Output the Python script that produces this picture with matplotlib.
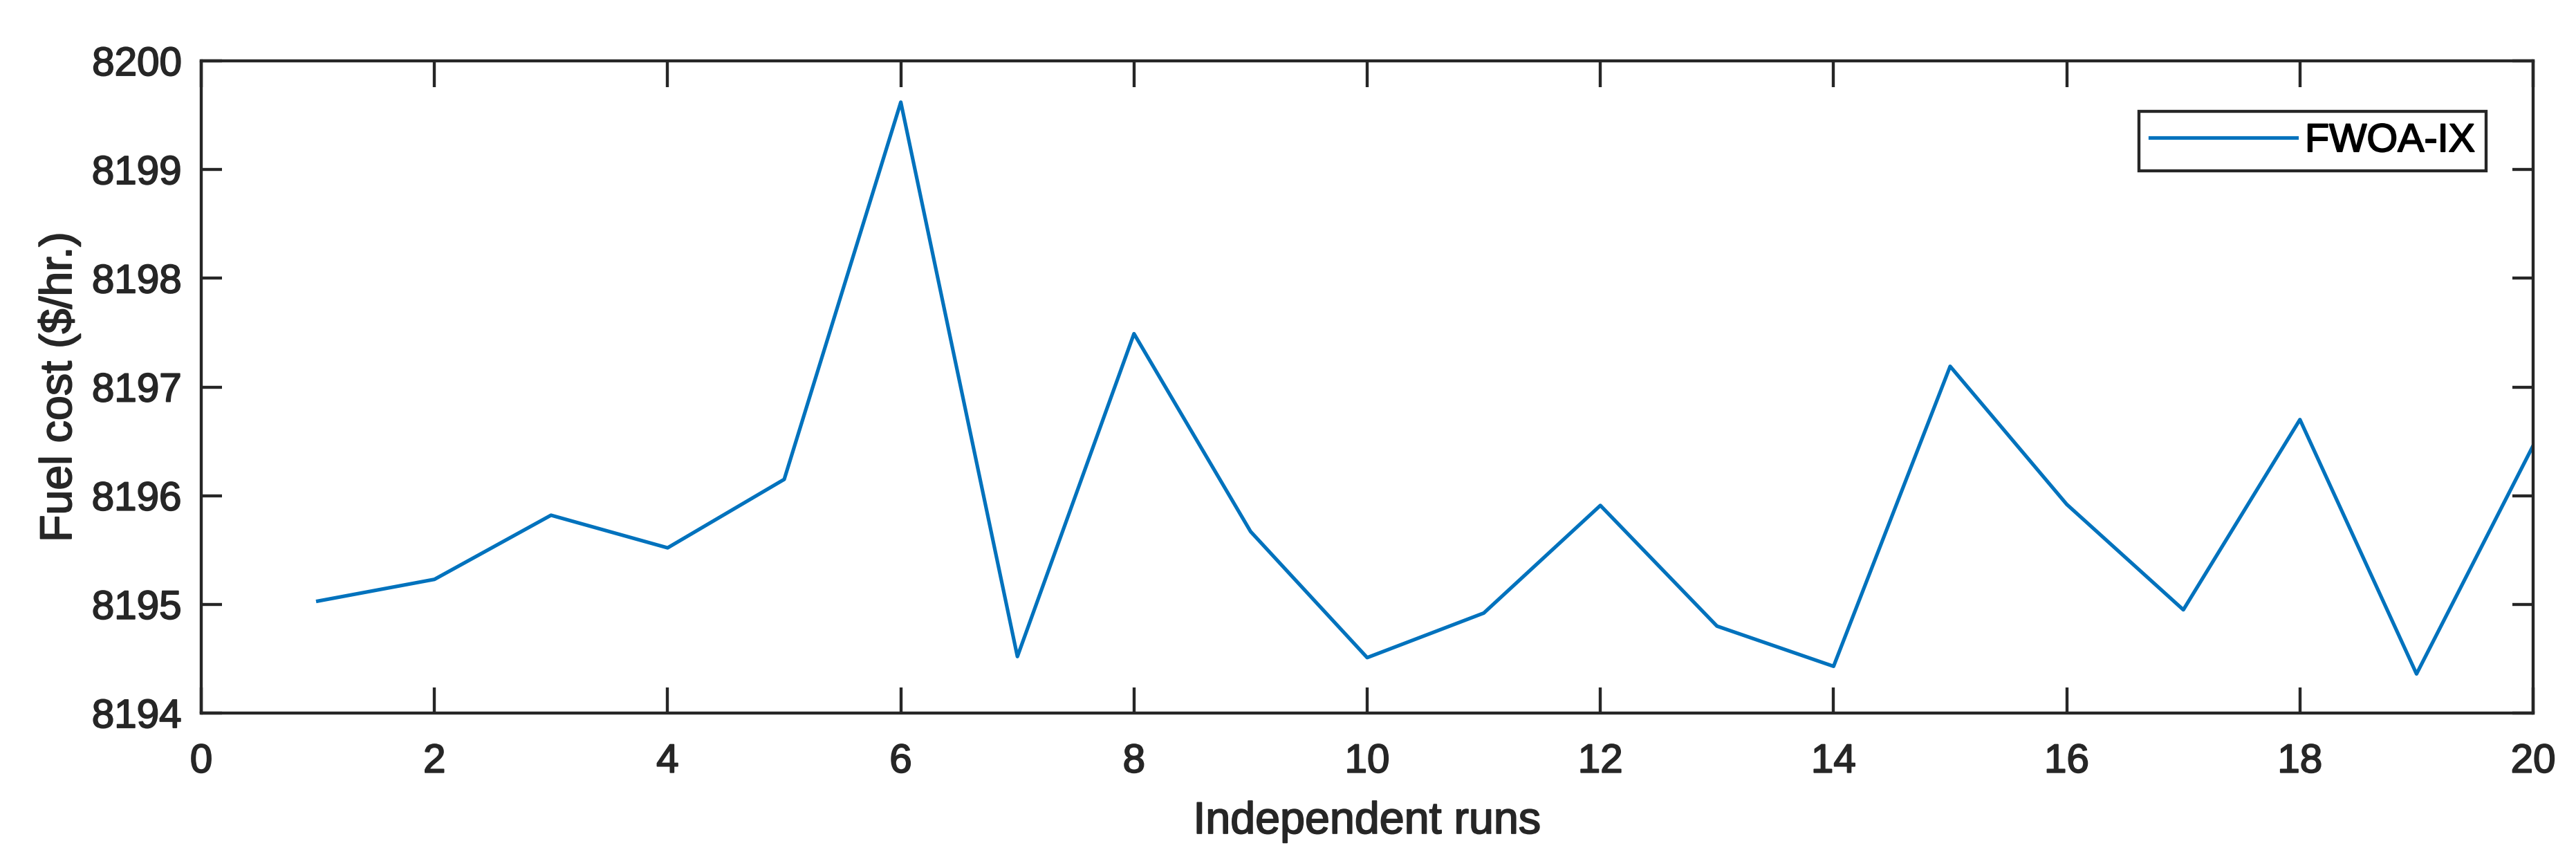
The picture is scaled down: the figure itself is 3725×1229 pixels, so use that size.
import numpy as np
import matplotlib
matplotlib.use("Agg")
import matplotlib.pyplot as plt
import matplotlib.patheffects as pe

# fuel cost per independent run
runs = list(range(1, 21))
fuel_cost = [8195.03, 8195.23, 8195.82, 8195.52, 8196.15, 8199.62, 8194.52, 8197.49,
             8195.67, 8194.51, 8194.92, 8195.91, 8194.80, 8194.43, 8197.19, 8195.92,
             8194.95, 8196.70, 8194.36, 8196.46]
x_ticks = [0, 2, 4, 6, 8, 10, 12, 14, 16, 18, 20]
y_ticks = [8194, 8195, 8196, 8197, 8198, 8199, 8200]
series_name = "FWOA-IX"

dark = "#262626"
plt.rcParams['font.family'] = ['Liberation Sans', 'DejaVu Sans']
# the reference text is a bit heavier than plain regular weight
heavy = [pe.withStroke(linewidth=0.45, foreground=dark)]

fig = plt.figure(figsize=(3725 / 300, 1229 / 300), dpi=300)
ax = fig.add_axes([291 / 3725, 1 - 1031 / 1229, (3663 - 291) / 3725, (1031 - 88) / 1229])

ax.plot(runs, fuel_cost, color="#0072BD", linewidth=1.25, label=series_name)

ax.set_xlim(0, 20)
ax.set_ylim(8194, 8200)
ax.set_xticks(x_ticks)
ax.set_yticks(y_ticks)
ax.set_xticklabels([str(v) for v in x_ticks])
ax.set_yticklabels([str(v) for v in y_ticks])

for s in ax.spines.values():
    s.set_linewidth(1.05)
    s.set_color(dark)

ax.tick_params(axis="both", direction="in", top=True, right=True, width=1.05,
               color=dark, labelcolor=dark, labelsize=14)
ax.tick_params(axis="x", length=9, pad=10.5)
ax.tick_params(axis="y", length=7.2, pad=6.8)

ax.set_xlabel("Independent runs", fontsize=15.5, color=dark, labelpad=7)
ax.set_ylabel("Fuel cost ($/hr.)", fontsize=15.5, color=dark, labelpad=4)

leg = ax.legend(loc="upper right", bbox_to_anchor=(0.9798, 0.9226), borderaxespad=0,
                fancybox=False, edgecolor=dark, framealpha=1, fontsize=13.8,
                handlelength=3.69, handletextpad=0.21, borderpad=0.28)
leg.get_frame().set_linewidth(1.05)

texts = ax.get_xticklabels() + ax.get_yticklabels()
texts += [ax.xaxis.label, ax.yaxis.label]
for t in texts:
    t.set_path_effects(heavy)
for t in leg.get_texts():
    t.set_path_effects([pe.withStroke(linewidth=0.45, foreground="black")])

fig.savefig("out.png", dpi=300, facecolor="white")
